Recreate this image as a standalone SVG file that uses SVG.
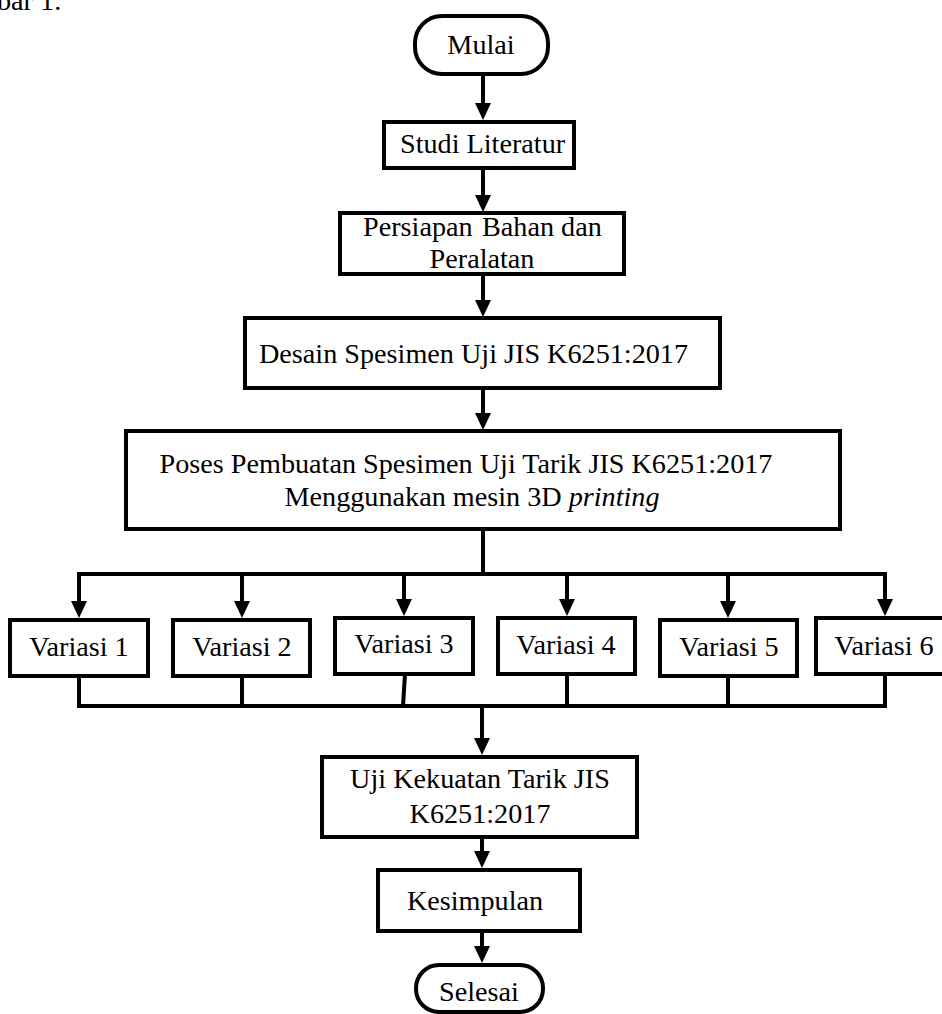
<svg xmlns="http://www.w3.org/2000/svg" width="942" height="1014" viewBox="0 0 942 1014">
<style>
text{font-family:"Liberation Serif","Times New Roman",serif;font-size:28.2px;fill:#000}
.box{fill:#fff;stroke:#000;stroke-width:4}
.c{fill:none;stroke:#000;stroke-width:4}
.m{text-anchor:middle}
</style>
<defs>
<marker id="ah" viewBox="0 0 17 16" refX="9" refY="8" markerWidth="17" markerHeight="16" markerUnits="userSpaceOnUse" orient="auto">
<path d="M0,0 L17,8 L0,16 Z" fill="#000"/>
</marker>
</defs>
<rect width="942" height="1014" fill="#fff"/>
<text x="-3" y="10">bar 1.</text>

<g id="connectors">
<line class="c" x1="483" y1="74" x2="483" y2="112" marker-end="url(#ah)"/>
<line class="c" x1="483" y1="168" x2="483" y2="204" marker-end="url(#ah)"/>
<line class="c" x1="483" y1="274" x2="483" y2="309" marker-end="url(#ah)"/>
<line class="c" x1="483" y1="388" x2="483" y2="422" marker-end="url(#ah)"/>
<line class="c" x1="483" y1="529" x2="483" y2="574"/>
<line class="c" x1="77" y1="574" x2="887" y2="574"/>
<line class="c" x1="79" y1="574" x2="79" y2="610" marker-end="url(#ah)"/>
<line class="c" x1="242" y1="574" x2="242" y2="610" marker-end="url(#ah)"/>
<line class="c" x1="404" y1="574" x2="404" y2="608" marker-end="url(#ah)"/>
<line class="c" x1="567" y1="574" x2="567" y2="608" marker-end="url(#ah)"/>
<line class="c" x1="728" y1="574" x2="728" y2="610" marker-end="url(#ah)"/>
<line class="c" x1="885" y1="574" x2="885" y2="608" marker-end="url(#ah)"/>
<line class="c" x1="79" y1="676" x2="79" y2="706"/>
<line class="c" x1="242" y1="676" x2="242" y2="706"/>
<line class="c" x1="405" y1="674" x2="403" y2="706"/>
<line class="c" x1="567" y1="674" x2="567" y2="706"/>
<line class="c" x1="728" y1="676" x2="728" y2="706"/>
<line class="c" x1="885" y1="674" x2="885" y2="706"/>
<line class="c" x1="77" y1="706" x2="887" y2="706"/>
<line class="c" x1="482" y1="706" x2="482" y2="747" marker-end="url(#ah)"/>
<line class="c" x1="482" y1="837" x2="482" y2="860" marker-end="url(#ah)"/>
<line class="c" x1="482" y1="931" x2="482" y2="955" marker-end="url(#ah)"/>
</g>

<g id="mulai">
<rect class="box" x="415" y="16" width="133" height="58" rx="27"/>
<text class="m" x="481" y="54">Mulai</text>
</g>
<g id="studi">
<rect class="box" x="384" y="122" width="190" height="46"/>
<text x="400" y="153">Studi Literatur</text>
</g>
<g id="persiapan">
<rect class="box" x="340" y="213" width="284" height="61"/>
<text y="236"><tspan x="363">Persiapan</tspan><tspan x="482">Bahan dan</tspan></text>
<text class="m" x="482" y="268">Peralatan</text>
</g>
<g id="desain">
<rect class="box" x="245" y="318" width="475" height="70"/>
<text x="259" y="363">Desain Spesimen Uji JIS K6251:2017</text>
</g>
<g id="poses">
<rect class="box" x="126" y="431" width="714" height="98"/>
<text class="m" x="466" y="473">Poses Pembuatan Spesimen Uji Tarik JIS K6251:2017</text>
<text class="m" x="472" y="506">Menggunakan mesin 3D <tspan font-style="italic">printing</tspan></text>
</g>
<g id="variasi1">
<rect class="box" x="10" y="620" width="138" height="56"/>
<text class="m" x="79" y="656">Variasi 1</text>
</g>
<g id="variasi2">
<rect class="box" x="173" y="620" width="137" height="56"/>
<text class="m" x="242" y="656">Variasi 2</text>
</g>
<g id="variasi3">
<rect class="box" x="335" y="618" width="138" height="56"/>
<text class="m" x="404" y="653">Variasi 3</text>
</g>
<g id="variasi4">
<rect class="box" x="498" y="618" width="137" height="56"/>
<text class="m" x="566" y="654">Variasi 4</text>
</g>
<g id="variasi5">
<rect class="box" x="660" y="620" width="137" height="56"/>
<text class="m" x="729" y="656">Variasi 5</text>
</g>
<g id="variasi6">
<rect class="box" x="816" y="618" width="142" height="56"/>
<text class="m" x="884" y="655">Variasi 6</text>
</g>
<g id="uji">
<rect class="box" x="322" y="757" width="315" height="80"/>
<text class="m" x="480" y="788">Uji Kekuatan Tarik JIS</text>
<text class="m" x="480" y="823">K6251:2017</text>
</g>
<g id="kesimpulan">
<rect class="box" x="378" y="870" width="202" height="61"/>
<text class="m" x="475" y="910">Kesimpulan</text>
</g>
<g id="selesai">
<rect class="box" x="416" y="965" width="127" height="47" rx="23"/>
<text class="m" x="479" y="1001">Selesai</text>
</g>
</svg>
